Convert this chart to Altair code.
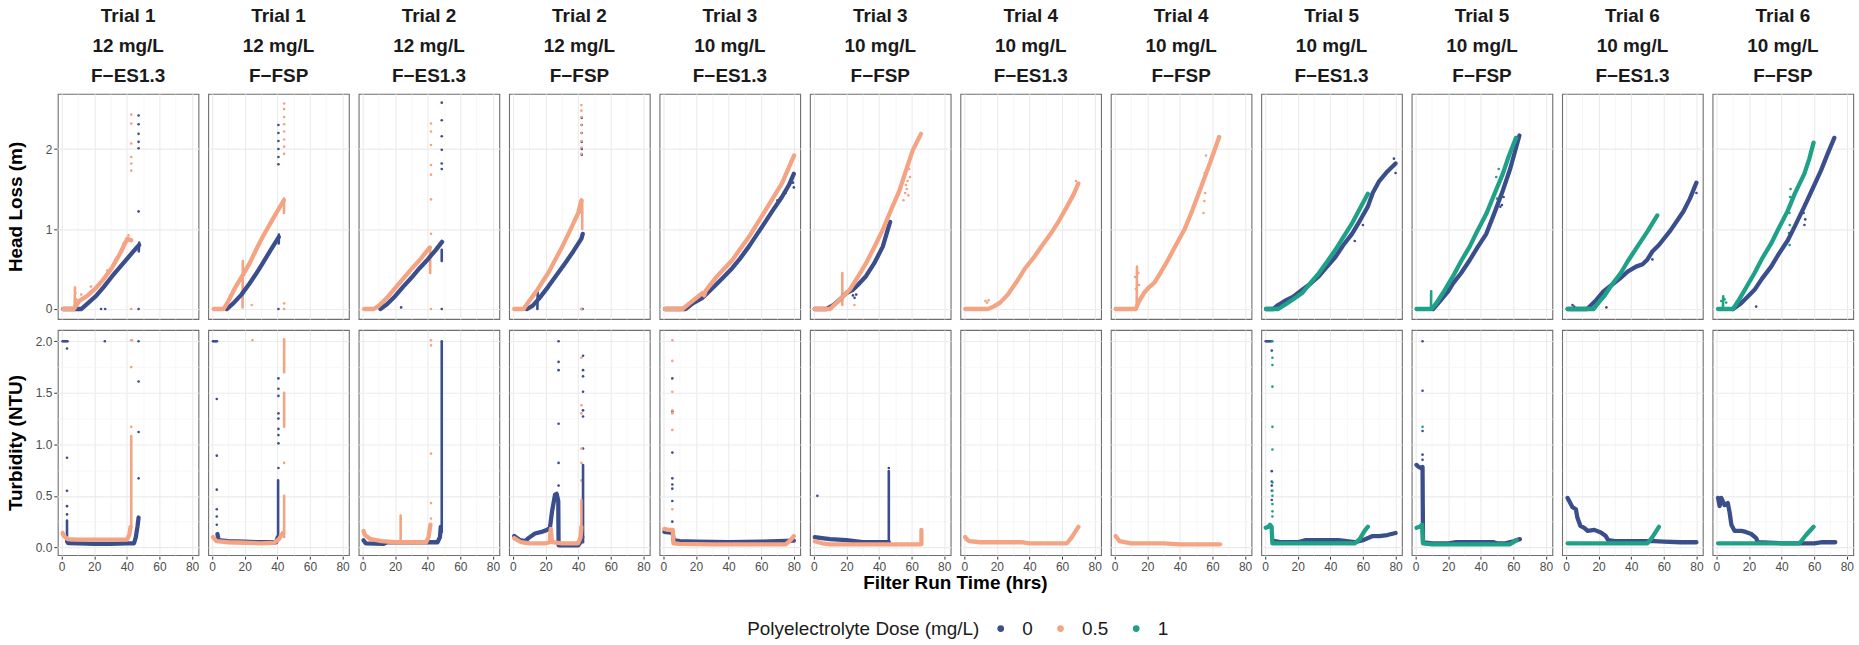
import altair as alt
import pandas as pd

FONT = "Liberation Sans"

PANELS = [
    "Trial 1|12 mg/L|F−ES1.3", "Trial 1|12 mg/L|F−FSP",
    "Trial 2|12 mg/L|F−ES1.3", "Trial 2|12 mg/L|F−FSP",
    "Trial 3|10 mg/L|F−ES1.3", "Trial 3|10 mg/L|F−FSP",
    "Trial 4|10 mg/L|F−ES1.3", "Trial 4|10 mg/L|F−FSP",
    "Trial 5|10 mg/L|F−ES1.3", "Trial 5|10 mg/L|F−FSP",
    "Trial 6|10 mg/L|F−ES1.3", "Trial 6|10 mg/L|F−FSP",
]
DOSES = ["0", "0.5", "1"]
COLORS = ["#3B4E8C", "#F4A383", "#1FA187"]

X_TICKS = [0, 10, 20, 30, 40, 50, 60, 70, 80]
HL_TICKS = [0, 0.5, 1, 1.5, 2, 2.5]
TU_TICKS = [0, 0.25, 0.5, 0.75, 1, 1.25, 1.5, 1.75, 2]

# ---------------- Panel 1 : Trial 1, F-ES1.3 ----------------
P1_HL_D0 = [(1, 0), (12, 0), (16, 0.07), (21, 0.16), (26, 0.28), (31, 0.41), (36, 0.53), (41, 0.65), (44, 0.72), (47.5, 0.8)]
P1_HL_D0_SEG = [(47.3, 0.72), (47.6, 0.83)]
P1_HL_D0_PTS = [(24.2, 0), (26.7, 0), (47.2, 2.42), (47.2, 2.31), (47.2, 2.19), (47.2, 2.09), (47.2, 2.01), (47.2, 1.22), (47.2, 0)]
P1_HL_D05 = [(1, 0), (7.5, 0), (10.8, 0.1), (16, 0.17), (21, 0.26), (26, 0.38), (31, 0.52), (36, 0.7), (40.3, 0.88), (42.7, 0.86)]
P1_HL_D05_SEG = [(8, 0.02), (8.2, 0.27)]
P1_HL_D05_PTS = [(8.5, 0.2), (9, 0.12), (12, 0.18), (18, 0.28), (28, 0.48), (33, 0.62), (38, 0.82), (41, 0.92), (40.5, 0.85),
                 (42.7, 2.43), (42.7, 2.32), (42.7, 2.07), (42.7, 1.9), (42.7, 1.82), (42.7, 1.73), (42.7, 0)]
P1_TU_D0 = [(3.3, 0.06), (4, 0.042), (10, 0.04), (20, 0.035), (30, 0.035), (40, 0.04), (44.4, 0.04), (45.5, 0.1), (46.5, 0.2), (47.2, 0.29)]
P1_TU_D0_SEG = [(3.3, 0.05), (3.3, 0.26)]
P1_TU_D0_PTS = [(0.6, 2.0), (1.2, 2.0), (1.8, 2.0), (2.4, 2.0), (3.0, 2.0), (3.6, 2.0), (3.3, 1.93), (3.3, 0.87), (3.3, 0.55),
                (3.3, 0.4), (3.3, 0.32), (26.5, 2.0), (47.2, 2.0), (47.2, 1.61), (47.2, 1.12), (47.2, 0.67)]
P1_TU_D05 = [(0.6, 0.14), (1.5, 0.11), (3.7, 0.08), (10, 0.075), (20, 0.075), (30, 0.075), (40, 0.075), (41.5, 0.12), (42.3, 0.2)]
P1_TU_D05_SEG = [(42.7, 0.2), (42.7, 1.08)]
P1_TU_D05_PTS = [(42.7, 2.01), (43.2, 2.01), (42.7, 1.75), (42.7, 1.17)]

# ---------------- Panel 2 : Trial 1, F-FSP ----------------
P2_HL_D0 = [(9, 0), (13, 0.07), (18, 0.18), (23, 0.32), (27, 0.44), (31, 0.57), (36, 0.74), (40.9, 0.9)]
P2_HL_D0_SEG = [(40.9, 0.82), (41, 0.93)]
P2_HL_D0_PTS = [(40.7, 2.3), (40.7, 2.2), (40.7, 2.1), (40.7, 2.0), (40.7, 1.9), (40.7, 1.81), (40.7, 0)]
P2_HL_D05 = [(1, 0), (7, 0), (10, 0.1), (14, 0.26), (19, 0.43), (23, 0.57), (27, 0.74), (31, 0.9), (36, 1.08), (40, 1.22), (44, 1.36)]
P2_HL_D05_SEG = [(18.7, 0.02), (18.9, 0.6)]
P2_HL_D05_SEG2 = [(44.1, 1.2), (44.2, 1.38)]
P2_HL_D05_PTS = [(19.5, 0.5), (18.3, 0.35), (24.3, 0.05), (44.2, 2.57), (44.2, 2.5), (44.2, 2.4), (44.2, 2.31), (44.2, 2.22),
                 (44.2, 2.12), (44.2, 2.03), (44.2, 1.94), (44.2, 0.07), (44.2, 0)]
P2_TU_D0 = [(3.3, 0.13), (4, 0.07), (10, 0.06), (20, 0.055), (30, 0.05), (39.3, 0.05), (40.3, 0.1)]
P2_TU_D0_SEG = [(40.5, 0.1), (40.5, 0.65)]
P2_TU_D0_PTS = [(0.6, 2.0), (1.2, 2.0), (1.8, 2.0), (2.4, 2.0), (3.0, 2.0), (2.9, 1.44), (2.9, 0.89), (2.9, 0.56), (2.9, 0.37),
                (2.9, 0.3), (2.9, 0.22), (40.7, 1.64), (40.7, 1.54), (40.7, 1.47), (40.7, 1.3), (40.7, 1.25), (40.7, 1.15),
                (40.7, 1.09), (40.7, 1.01), (40.7, 0.77)]
P2_TU_D05 = [(0.6, 0.1), (2.7, 0.06), (10, 0.05), (20, 0.045), (30, 0.04), (38, 0.045), (41, 0.08), (43.4, 0.14)]
P2_TU_D05_SEG = [(44.2, 0.1), (44.2, 0.5)]
P2_TU_D05_SEG2 = [(44.2, 1.7), (44.2, 2.02)]
P2_TU_D05_SEG3 = [(44.2, 1.17), (44.2, 1.5)]
P2_TU_D05_PTS = [(44.2, 0.82), (24.8, 2.01)]

# ---------------- Panel 3 : Trial 2, F-ES1.3 ----------------
P3_HL_D0 = [(11, 0), (15, 0.06), (20, 0.16), (25, 0.28), (30, 0.39), (35, 0.51), (40, 0.62), (45, 0.74), (48.8, 0.84)]
P3_HL_D0_SEG = [(48.6, 0.6), (48.6, 0.74)]
P3_HL_D0_PTS = [(48.6, 2.58), (48.6, 2.36), (48.6, 2.16), (48.6, 1.99), (48.6, 1.82), (48.6, 1.75), (48.6, 0), (23.7, 0.02)]
P3_HL_D05 = [(1, 0), (7, 0), (10, 0.04), (15, 0.14), (20, 0.26), (25, 0.38), (30, 0.5), (35, 0.61), (41.3, 0.77)]
P3_HL_D05_SEG = [(41.5, 0.77), (41.5, 0.45)]
P3_HL_D05_PTS = [(42, 2.32), (42, 2.22), (42, 2.05), (42, 1.8), (42, 1.68), (42, 1.37), (42, 0.94), (42, 0)]
P3_TU_D0 = [(0.6, 0.07), (2, 0.04), (13, 0.035), (15, 0.05), (30, 0.05), (46, 0.05), (47.5, 0.1), (48, 0.2)]
P3_TU_D0_SEG = [(48.6, 0.15), (48.6, 2.0)]
P3_TU_D05 = [(0.6, 0.16), (1.5, 0.12), (5, 0.08), (12, 0.06), (20, 0.05), (30, 0.05), (39, 0.05), (40.5, 0.1), (41.7, 0.22)]
P3_TU_D05_SEG = [(23.4, 0.05), (23.4, 0.31)]
P3_TU_D05_PTS = [(42, 2.01), (42, 1.96), (42, 0.91), (42, 0.43), (42, 0.28)]

# ---------------- Panel 4 : Trial 2, F-FSP ----------------
P4_HL_D0 = [(8.5, 0), (12, 0.04), (16, 0.13), (21.7, 0.28), (27, 0.43), (31.9, 0.57), (37, 0.72), (42, 0.88), (42.8, 0.94)]
P4_HL_D0_SEG = [(15, 0.0), (15.2, 0.22)]
P4_HL_D0_PTS = [(42.2, 2.39), (42.2, 2.3), (42.2, 2.2), (42.2, 2.09), (42.2, 2.0), (42.2, 1.93), (42.2, 1.21), (42.2, 0), (42.7, 0)]
P4_HL_D05 = [(0.8, 0), (6.5, 0), (10, 0.1), (15, 0.24), (20, 0.4), (21.7, 0.45), (25, 0.58), (30, 0.77), (35, 0.98), (40, 1.2), (42, 1.36)]
P4_HL_D05_SEG = [(42.5, 1.36), (42.5, 1.0)]
P4_HL_D05_PTS = [(42, 2.55), (42, 2.48), (42, 2.4), (42, 2.3), (42, 2.2), (42, 2.1), (42, 2.02), (42, 1.94), (42, 0)]
P4_TU_D0 = [(0.8, 0.11), (4.5, 0.07), (7.5, 0.06), (9.5, 0.09), (13.5, 0.135), (17.5, 0.15), (21, 0.17), (22.7, 0.19),
            (24, 0.35), (25.8, 0.51), (26.8, 0.52), (27.8, 0.45), (28, 0.02), (35, 0.02), (40, 0.02), (41.5, 0.05), (42.5, 0.1)]
P4_TU_D0_SEG = [(43, 0.05), (43, 0.8)]
P4_TU_D0_PTS = [(28, 2.0), (28, 1.8), (28, 1.72), (28, 1.2), (28, 0.82), (28, 0.6), (28, 0.31), (28, 0.25), (43, 1.86),
                (43, 1.72), (43, 1.66), (43, 1.51), (43, 1.33), (43, 1.27), (43, 0.96)]
P4_TU_D05 = [(0.8, 0.09), (5, 0.05), (10, 0.04), (20, 0.04), (22.5, 0.05), (23.2, 0.18), (24, 0.05), (30, 0.04), (40, 0.04),
             (41.5, 0.1), (42, 0.2)]
P4_TU_D05_SEG = [(42, 0.05), (42, 0.46)]
P4_TU_D05_PTS = [(42, 1.84), (42, 1.38), (42, 1.3), (42, 0.96), (42, 0.82), (42, 0.65)]

# ---------------- Panel 5 : Trial 3, F-ES1.3 ----------------
P5_HL_D0 = [(1, 0), (13.6, 0), (18, 0.07), (24, 0.14), (28, 0.22), (32.1, 0.3), (37, 0.4), (42.2, 0.51), (47, 0.63),
            (52.4, 0.78), (57, 0.92), (62.5, 1.09), (67, 1.23), (72.7, 1.4), (77, 1.55), (80, 1.69)]
P5_HL_D0_PTS = [(80, 1.52), (79.5, 1.58), (75, 1.45), (70, 1.36)]
P5_HL_D05 = [(1, 0), (11.8, 0), (16, 0.07), (24, 0.2), (25, 0.17), (26, 0.23), (32.1, 0.39), (42.2, 0.61), (52.4, 0.9),
             (62.5, 1.23), (72.7, 1.57), (80.2, 1.92)]
P5_TU_D0 = [(0.6, 0.15), (5.8, 0.14), (6.2, 0.07), (10, 0.06), (20, 0.055), (40, 0.05), (60, 0.055), (80, 0.065)]
P5_TU_D0_PTS = [(5.5, 1.64), (5.5, 1.32), (5.5, 0.92), (5.5, 0.67), (5.5, 0.61), (5.5, 0.57), (5.5, 0.45), (5.5, 0.25)]
P5_TU_D05 = [(0.6, 0.18), (3, 0.17), (5.8, 0.17), (6.2, 0.04), (10, 0.035), (30, 0.03), (50, 0.03), (75, 0.03), (78, 0.07), (80, 0.11)]
P5_TU_D05_PTS = [(5.5, 2.01), (5.5, 1.81), (5.5, 1.51), (5.5, 1.33), (5.5, 1.3), (5.5, 1.14), (5.5, 0.37)]

# ---------------- Panel 6 : Trial 3, F-FSP ----------------
P6_HL_D0 = [(0.6, 0), (7.6, 0), (12, 0.05), (16, 0.12), (20, 0.2), (24, 0.24), (27, 0.3), (32, 0.41), (37, 0.57), (42.3, 0.78), (46.8, 1.09)]
P6_HL_D0_PTS = [(25, 0.14), (26, 0.18), (24, 0.17)]
P6_HL_D05 = [(0.6, 0), (10, 0), (14, 0.08), (17.5, 0.15), (22, 0.24), (27, 0.4), (32, 0.57), (37, 0.77), (42.3, 0.99),
             (47, 1.22), (52.5, 1.48), (56, 1.7), (60.6, 1.98), (65.7, 2.19)]
P6_HL_D05_SEG = [(17.5, 0.05), (17.5, 0.45)]
P6_HL_D05_PTS = [(55, 1.36), (56, 1.45), (57, 1.5), (58, 1.42), (57.5, 1.6), (59, 1.65), (56.5, 1.55), (58.5, 1.75), (24.9, 0.05)]
P6_TU_D0 = [(0.6, 0.1), (5, 0.09), (10, 0.08), (20, 0.07), (30, 0.05), (46, 0.05)]
P6_TU_D0_SEG = [(46, 0.05), (46, 0.74)]
P6_TU_D0_PTS = [(46, 0.77), (2.2, 0.5)]
P6_TU_D05 = [(0.6, 0.06), (5, 0.04), (10, 0.03), (40, 0.03), (66, 0.03), (66, 0.17)]

# ---------------- Panel 7 : Trial 4, F-ES1.3 ----------------
P7_HL_D05 = [(0.6, 0), (14.5, 0), (18, 0.03), (22, 0.08), (26.7, 0.18), (32.8, 0.36), (37, 0.5), (42.9, 0.65), (48, 0.8),
             (53, 0.94), (58, 1.1), (63, 1.28), (67, 1.43), (70, 1.57)]
P7_HL_D05_PTS = [(13, 0.1), (14, 0.08), (15, 0.11), (69, 1.5), (68.5, 1.6)]
P7_TU_D05 = [(0.6, 0.1), (1.5, 0.08), (3, 0.06), (10, 0.05), (35, 0.05), (40, 0.04), (63, 0.04), (66, 0.1), (70, 0.2)]

# ---------------- Panel 8 : Trial 4, F-FSP ----------------
P8_HL_D05 = [(0.6, 0), (13, 0), (15, 0.1), (18, 0.2), (21, 0.27), (24.4, 0.33), (28, 0.45), (32.6, 0.61), (37, 0.78),
             (42.7, 0.99), (47, 1.2), (52.9, 1.52), (58, 1.8), (64.1, 2.15)]
P8_HL_D05_SEG = [(13.5, 0.0), (13.7, 0.53)]
P8_HL_D05_PTS = [(12.5, 0.4), (14.5, 0.45), (13, 0.25), (15, 0.3), (54.5, 1.2), (55, 1.35), (55.5, 1.45), (54, 1.6), (56, 1.92), (55.2, 1.7)]
P8_TU_D05 = [(0.6, 0.11), (3, 0.06), (10, 0.04), (30, 0.04), (40, 0.03), (64.7, 0.03)]

# ---------------- Panel 9 : Trial 5, F-ES1.3 ----------------
P9_HL_D0 = [(0.6, 0), (5, 0), (8, 0.05), (12, 0.1), (17, 0.15), (22.8, 0.24), (28, 0.32), (33, 0.41), (38, 0.53), (43.1, 0.65),
            (48, 0.8), (53.3, 0.94), (58, 1.1), (63, 1.28), (66, 1.45), (70, 1.6), (75, 1.72), (80, 1.82)]
P9_HL_D0_PTS = [(80, 1.7), (79, 1.88), (55, 0.85), (60, 1.05)]
P9_HL_D1 = [(0.6, 0), (8, 0), (12, 0.05), (17, 0.12), (22.8, 0.2), (28, 0.33), (33, 0.45), (38, 0.59), (43.1, 0.74),
            (48, 0.9), (53.3, 1.07), (58, 1.25), (63, 1.44)]
P9_TU_D0 = [(4.5, 0.065), (10, 0.05), (20, 0.05), (25, 0.07), (45, 0.07), (50, 0.06), (55, 0.05), (60, 0.07), (66, 0.11),
            (70, 0.11), (75, 0.12), (80, 0.14)]
P9_TU_D0_PTS = [(0.4, 2.0), (1, 2.0), (1.6, 2.0), (2.2, 2.0), (2.8, 2.0), (3.4, 2.0), (4, 2.0), (4.1, 1.91), (4.1, 0.74),
                (4.1, 0.64), (4.1, 0.6), (4.1, 0.55), (4.1, 0.46)]
P9_TU_D1 = [(0.4, 0.19), (2, 0.2), (3, 0.22), (4, 0.2), (4.5, 0.04), (10, 0.04), (30, 0.04), (55, 0.04), (58, 0.08), (61, 0.16), (63, 0.2)]
P9_TU_D1_PTS = [(4.5, 2.0), (4.5, 1.84), (4.5, 1.77), (4.5, 1.56), (4.5, 1.17), (4.5, 0.95), (4.5, 0.63), (4.5, 0.55),
                (4.5, 0.5), (4.5, 0.42), (4.5, 0.35), (4.5, 0.3)]

# ---------------- Panel 10 : Trial 5, F-FSP ----------------
P10_HL_D0 = [(10.8, 0), (15, 0.1), (20, 0.22), (23, 0.32), (28, 0.45), (33.2, 0.61), (38, 0.77), (43.4, 0.94), (48, 1.18),
             (53.5, 1.48), (58, 1.75), (63.7, 2.17)]
P10_HL_D0_PTS = [(52, 1.28), (53, 1.3), (54, 1.4)]
P10_HL_D1 = [(0.6, 0), (9.8, 0), (13, 0.08), (18, 0.24), (23, 0.41), (28, 0.6), (33.2, 0.78), (38, 0.98), (43.4, 1.19),
             (48, 1.42), (53.5, 1.69), (57, 1.9), (61.6, 2.14)]
P10_HL_D1_SEG = [(9.5, 0), (9.6, 0.22)]
P10_HL_D1_PTS = [(49, 1.25), (50, 1.38), (50.5, 1.55), (49.5, 1.65), (51, 1.75)]
P10_TU_D0 = [(0.6, 0.8), (2, 0.78), (3.5, 0.77), (4.3, 0.78), (4.6, 0.05), (10, 0.04), (20, 0.04), (25, 0.05), (48, 0.05),
             (50, 0.04), (55, 0.04), (60, 0.06), (64, 0.08)]
P10_TU_D0_PTS = [(4.3, 2.0), (4.3, 1.52), (4.3, 1.13), (4.3, 0.9), (4.3, 0.85)]
P10_TU_D1 = [(0.6, 0.19), (2.5, 0.2), (4, 0.22), (4.6, 0.04), (10, 0.03), (30, 0.03), (58, 0.03), (62, 0.07)]
P10_TU_D1_PTS = [(4.3, 1.17), (4.3, 0.59), (4.3, 0.49), (4.3, 0.38), (4.3, 0.31), (4.3, 0.26)]

# ---------------- Panel 11 : Trial 6, F-ES1.3 ----------------
P11_HL_D0 = [(1, 0), (13, 0), (18, 0.1), (23, 0.22), (28, 0.3), (33, 0.38), (38, 0.47), (43, 0.53), (47, 0.56), (50, 0.62),
             (53, 0.72), (57, 0.8), (64, 0.98), (72, 1.22), (76, 1.38), (80, 1.58)]
P11_HL_D0_PTS = [(4, 0.05), (5, 0.03), (24.8, 0.02), (53, 0.62), (80, 1.45)]
P11_HL_D1 = [(1, 0), (17, 0), (20, 0.08), (23.4, 0.16), (28, 0.3), (33.6, 0.45), (38, 0.6), (43.8, 0.78), (50, 0.97), (56, 1.17)]
P11_TU_D0 = [(1, 0.48), (2, 0.45), (4, 0.39), (6.1, 0.37), (7, 0.29), (8.8, 0.21), (11.2, 0.19), (13.3, 0.16), (17.4, 0.17),
             (21.4, 0.145), (24.4, 0.11), (25.9, 0.07), (30, 0.06), (50, 0.06), (54, 0.06), (60, 0.055), (70, 0.05), (80, 0.05)]
P11_TU_D1 = [(1, 0.04), (20, 0.04), (40, 0.04), (50, 0.04), (53, 0.1), (57, 0.2)]

# ---------------- Panel 12 : Trial 6, F-FSP ----------------
P12_HL_D0 = [(10.2, 0), (15, 0.07), (19, 0.15), (23.4, 0.24), (28, 0.38), (33.6, 0.53), (38, 0.68), (43.8, 0.86), (48, 1.03),
             (53.9, 1.28), (58, 1.46), (64.1, 1.73), (68, 1.93), (72.3, 2.14)]
P12_HL_D0_PTS = [(54, 1.05), (54.5, 1.12), (53.5, 1.2), (54, 1.3), (24.4, 0.03)]
P12_HL_D1 = [(1, 0), (10.2, 0), (14, 0.12), (18, 0.26), (23.4, 0.45), (28, 0.63), (33.6, 0.82), (38, 1.0), (43.8, 1.23),
             (48, 1.44), (53.9, 1.69), (57, 1.88), (59.6, 2.08)]
P12_HL_D1_SEG = [(4, 0.0), (4.2, 0.16)]
P12_HL_D1_PTS = [(3, 0.1), (5, 0.12), (6, 0.08), (44.5, 0.95), (45, 1.05), (44.8, 1.2), (45.2, 1.4), (45.5, 1.5), (44.9, 0.8)]
P12_TU_D0 = [(1, 0.48), (2, 0.4), (3, 0.48), (5, 0.41), (7, 0.43), (8.1, 0.34), (9.2, 0.22), (11.2, 0.16), (15.3, 0.16),
             (18, 0.15), (21.4, 0.13), (24.4, 0.09), (25.4, 0.05), (40, 0.04), (60, 0.04), (65, 0.05), (72.9, 0.05)]
P12_TU_D1 = [(1, 0.04), (30, 0.04), (51, 0.04), (55, 0.12), (59.6, 0.2)]

# (panel index, variable, dose, kind, points)
SERIES = [
    (0, "hl", "0", "line", P1_HL_D0), (0, "hl", "0", "line", P1_HL_D0_SEG), (0, "hl", "0", "pt", P1_HL_D0_PTS),
    (0, "hl", "0.5", "line", P1_HL_D05), (0, "hl", "0.5", "line", P1_HL_D05_SEG), (0, "hl", "0.5", "pt", P1_HL_D05_PTS),
    (0, "tu", "0", "line", P1_TU_D0), (0, "tu", "0", "line", P1_TU_D0_SEG), (0, "tu", "0", "pt", P1_TU_D0_PTS),
    (0, "tu", "0.5", "line", P1_TU_D05), (0, "tu", "0.5", "line", P1_TU_D05_SEG), (0, "tu", "0.5", "pt", P1_TU_D05_PTS),

    (1, "hl", "0", "line", P2_HL_D0), (1, "hl", "0", "line", P2_HL_D0_SEG), (1, "hl", "0", "pt", P2_HL_D0_PTS),
    (1, "hl", "0.5", "line", P2_HL_D05), (1, "hl", "0.5", "line", P2_HL_D05_SEG), (1, "hl", "0.5", "line", P2_HL_D05_SEG2),
    (1, "hl", "0.5", "pt", P2_HL_D05_PTS),
    (1, "tu", "0", "line", P2_TU_D0), (1, "tu", "0", "line", P2_TU_D0_SEG), (1, "tu", "0", "pt", P2_TU_D0_PTS),
    (1, "tu", "0.5", "line", P2_TU_D05), (1, "tu", "0.5", "line", P2_TU_D05_SEG), (1, "tu", "0.5", "line", P2_TU_D05_SEG2),
    (1, "tu", "0.5", "line", P2_TU_D05_SEG3), (1, "tu", "0.5", "pt", P2_TU_D05_PTS),

    (2, "hl", "0", "line", P3_HL_D0), (2, "hl", "0", "line", P3_HL_D0_SEG), (2, "hl", "0", "pt", P3_HL_D0_PTS),
    (2, "hl", "0.5", "line", P3_HL_D05), (2, "hl", "0.5", "line", P3_HL_D05_SEG), (2, "hl", "0.5", "pt", P3_HL_D05_PTS),
    (2, "tu", "0", "line", P3_TU_D0), (2, "tu", "0", "line", P3_TU_D0_SEG),
    (2, "tu", "0.5", "line", P3_TU_D05), (2, "tu", "0.5", "line", P3_TU_D05_SEG), (2, "tu", "0.5", "pt", P3_TU_D05_PTS),

    (3, "hl", "0", "line", P4_HL_D0), (3, "hl", "0", "line", P4_HL_D0_SEG), (3, "hl", "0", "pt", P4_HL_D0_PTS),
    (3, "hl", "0.5", "line", P4_HL_D05), (3, "hl", "0.5", "line", P4_HL_D05_SEG), (3, "hl", "0.5", "pt", P4_HL_D05_PTS),
    (3, "tu", "0", "line", P4_TU_D0), (3, "tu", "0", "line", P4_TU_D0_SEG), (3, "tu", "0", "pt", P4_TU_D0_PTS),
    (3, "tu", "0.5", "line", P4_TU_D05), (3, "tu", "0.5", "line", P4_TU_D05_SEG), (3, "tu", "0.5", "pt", P4_TU_D05_PTS),

    (4, "hl", "0", "line", P5_HL_D0), (4, "hl", "0", "pt", P5_HL_D0_PTS), (4, "hl", "0.5", "line", P5_HL_D05),
    (4, "tu", "0", "line", P5_TU_D0), (4, "tu", "0", "pt", P5_TU_D0_PTS),
    (4, "tu", "0.5", "line", P5_TU_D05), (4, "tu", "0.5", "pt", P5_TU_D05_PTS),

    (5, "hl", "0", "line", P6_HL_D0), (5, "hl", "0", "pt", P6_HL_D0_PTS),
    (5, "hl", "0.5", "line", P6_HL_D05), (5, "hl", "0.5", "line", P6_HL_D05_SEG), (5, "hl", "0.5", "pt", P6_HL_D05_PTS),
    (5, "tu", "0", "line", P6_TU_D0), (5, "tu", "0", "line", P6_TU_D0_SEG), (5, "tu", "0", "pt", P6_TU_D0_PTS),
    (5, "tu", "0.5", "line", P6_TU_D05),

    (6, "hl", "0.5", "line", P7_HL_D05), (6, "hl", "0.5", "pt", P7_HL_D05_PTS), (6, "tu", "0.5", "line", P7_TU_D05),

    (7, "hl", "0.5", "line", P8_HL_D05), (7, "hl", "0.5", "line", P8_HL_D05_SEG), (7, "hl", "0.5", "pt", P8_HL_D05_PTS),
    (7, "tu", "0.5", "line", P8_TU_D05),

    (8, "hl", "0", "line", P9_HL_D0), (8, "hl", "0", "pt", P9_HL_D0_PTS), (8, "hl", "1", "line", P9_HL_D1),
    (8, "tu", "0", "line", P9_TU_D0), (8, "tu", "0", "pt", P9_TU_D0_PTS),
    (8, "tu", "1", "line", P9_TU_D1), (8, "tu", "1", "pt", P9_TU_D1_PTS),

    (9, "hl", "0", "line", P10_HL_D0), (9, "hl", "0", "pt", P10_HL_D0_PTS),
    (9, "hl", "1", "line", P10_HL_D1), (9, "hl", "1", "line", P10_HL_D1_SEG), (9, "hl", "1", "pt", P10_HL_D1_PTS),
    (9, "tu", "0", "line", P10_TU_D0), (9, "tu", "0", "pt", P10_TU_D0_PTS),
    (9, "tu", "1", "line", P10_TU_D1), (9, "tu", "1", "pt", P10_TU_D1_PTS),

    (10, "hl", "0", "line", P11_HL_D0), (10, "hl", "0", "pt", P11_HL_D0_PTS), (10, "hl", "1", "line", P11_HL_D1),
    (10, "tu", "0", "line", P11_TU_D0), (10, "tu", "1", "line", P11_TU_D1),

    (11, "hl", "0", "line", P12_HL_D0), (11, "hl", "0", "pt", P12_HL_D0_PTS),
    (11, "hl", "1", "line", P12_HL_D1), (11, "hl", "1", "line", P12_HL_D1_SEG), (11, "hl", "1", "pt", P12_HL_D1_PTS),
    (11, "tu", "0", "line", P12_TU_D0), (11, "tu", "1", "line", P12_TU_D1),
]

rows = []
for seg_id, (p, var, dose, kind, pts) in enumerate(SERIES):
    # two-point "line" entries are short vertical spikes / blobs, drawn thinner
    if kind == "line" and len(pts) == 2:
        kind = "seg"
    for i, (t, v) in enumerate(pts):
        rows.append(dict(panel=PANELS[p], var=var, dose=dose, kind=kind, seg=seg_id,
                         i=i, t=t, v=v, dord=DOSES.index(dose)))
df = pd.DataFrame(rows)

color_enc_pts = alt.Color("dose:N", scale=alt.Scale(domain=DOSES, range=COLORS),
                          legend=alt.Legend(title="Polyelectrolyte Dose (mg/L)", orient="none",
                                            legendX=692, legendY=527, gridAlign="each",
                                            direction="horizontal", titleOrient="left"))
color_enc_line = alt.Color("dose:N", scale=alt.Scale(domain=DOSES, range=COLORS), legend=None)

GRID_MAJ = "#EBEBEB"
GRID_MIN = "#F4F4F4"


def x_axis(show):
    common = dict(values=X_TICKS, domain=False,
                  gridColor=alt.condition("datum.value % 20 === 0", alt.value(GRID_MAJ), alt.value(GRID_MIN)),
                  gridWidth=alt.condition("datum.value % 20 === 0", alt.value(1.1), alt.value(0.7)))
    if show:
        return alt.Axis(labelExpr="datum.value % 20 === 0 ? datum.label : ''",
                        tickOpacity=alt.condition("datum.value % 20 === 0", alt.value(1), alt.value(0)),
                        ticks=True, tickSize=3, tickColor="#333333", labelFontSize=12, labelColor="#4D4D4D",
                        labelFont=FONT, labelPadding=2, **common)
    return alt.Axis(labels=False, ticks=False, **common)


def y_axis(values, major_test, fmt, title):
    return alt.Axis(values=values, domain=False, title=title, format=fmt,
                    labelExpr=f"{major_test} ? datum.label : ''",
                    tickOpacity=alt.condition(major_test, alt.value(1), alt.value(0)),
                    tickSize=3, tickColor="#333333",
                    gridColor=alt.condition(major_test, alt.value(GRID_MAJ), alt.value(GRID_MIN)),
                    gridWidth=alt.condition(major_test, alt.value(1.1), alt.value(0.7)),
                    labelFontSize=12, labelColor="#4D4D4D", labelFont=FONT, labelPadding=2,
                    titleFont=FONT, titleFontSize=19, titleFontWeight="bold", titleColor="#000000",
                    titleX=-41, titleBaseline="middle", titleAngle=270)


def row_chart(var, ydom, yvals, major_test, fmt, ytitle, top):
    x = alt.X("t:Q", scale=alt.Scale(domain=[-2.35, 83.9], nice=False, zero=False), axis=x_axis(not top), title=None)
    y = alt.Y("v:Q", scale=alt.Scale(domain=ydom, nice=False, zero=False),
              axis=y_axis(yvals, major_test, fmt, ytitle))
    pts = alt.Chart().transform_filter(alt.datum.kind == "pt").mark_circle(size=7, opacity=1).encode(
        x=x, y=y, color=color_enc_pts, order=alt.Order("dord:Q"))
    segs = alt.Chart().transform_filter(alt.datum.kind == "seg").mark_line(
        strokeWidth=2.6, strokeCap="round").encode(
        x=x, y=y, color=color_enc_line, detail="seg:N", order=alt.Order("i:Q"))
    lines = alt.Chart().transform_filter(alt.datum.kind == "line").mark_line(
        strokeWidth=4.3, strokeCap="round", strokeJoin="round").encode(
        x=x, y=y, color=color_enc_line, detail="seg:N", order=alt.Order("i:Q"))
    layer = alt.layer(pts, segs, lines, data=df[df["var"] == var]).properties(width=141.2, height=226)
    if top:
        header = alt.Header(labelExpr="split(datum.value, '|')", labelFont=FONT, labelFontSize=19,
                            labelFontWeight="bold", labelColor="#1A1A1A", labelLineHeight=30,
                            labelPadding=7, title=None)
    else:
        header = alt.Header(labels=False, title="Filter Run Time (hrs)", titleOrient="bottom",
                            titleFont=FONT, titleFontSize=19, titleFontWeight="bold", titleColor="#000000",
                            titlePadding=-8)
    return layer.facet(column=alt.Column("panel:N", sort=PANELS, header=header), spacing=8)


top = row_chart("hl", [-0.125, 2.69], HL_TICKS, "datum.value % 1 === 0", "d", "Head Loss (m)", True)
bottom = row_chart("tu", [-0.075, 2.11], TU_TICKS, "datum.value % 0.5 === 0", ".1f", "Turbidity (NTU)", False)

chart = alt.vconcat(top, bottom, spacing=9).properties(
    padding={"left": 7, "top": 6, "right": 5, "bottom": 5}
).configure(font=FONT).configure_view(
    stroke="#6E6E6E", strokeWidth=1.1
).configure_legend(
    titleFont=FONT, titleFontSize=19, titleLimit=500,
    titleFontWeight="normal", titleColor="#1A1A1A", labelFont=FONT, labelFontSize=19, labelColor="#1A1A1A",
    symbolType="circle", symbolSize=45, symbolStrokeWidth=0, titlePadding=11, columnPadding=18, labelOffset=12
)

chart.save("out.html", embed_options={"renderer": "svg", "actions": False})
